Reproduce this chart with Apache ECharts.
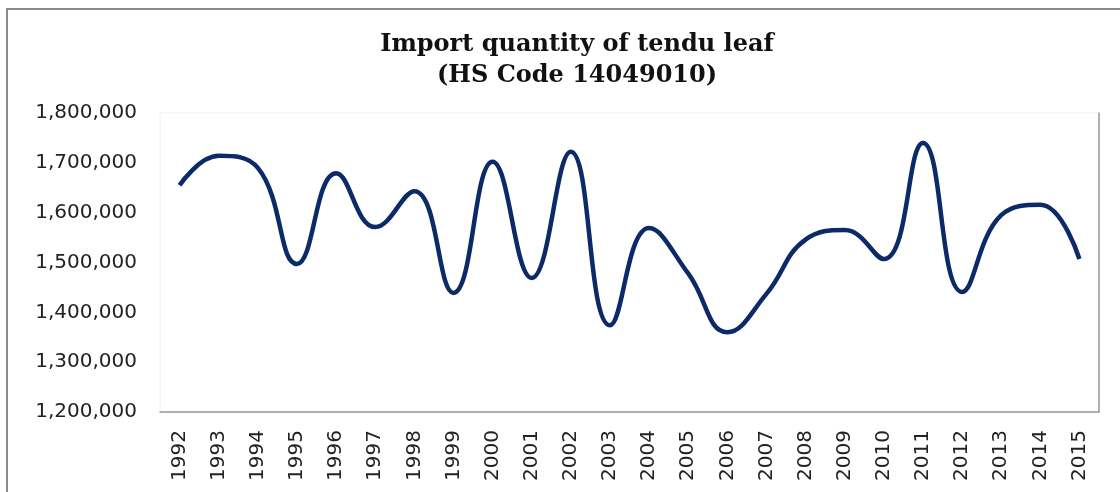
<!DOCTYPE html>
<html>
<head>
<meta charset="utf-8">
<title>Import quantity of tendu leaf</title>
<script src="https://cdn.jsdelivr.net/npm/echarts@6/dist/echarts.min.js"></script>
<style>
  html, body { margin: 0; padding: 0; background: #fff; }
  #chart { width: 1120px; height: 492px; }
</style>
</head>
<body>
<div id="chart"></div>
<script>
// years on the x axis
const years = ['1992', '1993', '1994', '1995', '1996', '1997', '1998', '1999', '2000', '2001', '2002', '2003',
  '2004', '2005', '2006', '2007', '2008', '2009', '2010', '2011', '2012', '2013', '2014', '2015']
// import quantity
const quantity = [1655000, 1714000, 1690000, 1497000, 1679000, 1571000, 1643000, 1439000, 1702000, 1469000,
  1722000, 1374000, 1569000, 1478000, 1360000, 1437000, 1546000, 1565000, 1507000, 1740000,
  1441000, 1595000, 1616000, 1507000]
const yMin = 1200000
const yMax = 1800000
const yStep = 100000

const fmt = v => String(v).replace(/\B(?=(\d{3})+(?!\d))/g, ',')

const myChart = echarts.init(document.getElementById('chart'))
const option = {
  animation: false,
  backgroundColor: '#fff',
  title: {
    text: 'Import quantity of tendu leaf\n(HS Code 14049010)',
    left: 572,
    top: 24,
    textAlign: 'center',
    textStyle: {
      fontFamily: 'DejaVu Serif',
      fontWeight: 'bold',
      fontSize: 24,
      lineHeight: 31,
      color: '#111'
    }
  },
  graphic: [
    {
      type: 'polyline',
      shape: { points: [[7, 492], [7, 9], [1120, 9]] },
      style: { stroke: '#8a8a8a', lineWidth: 2, fill: null }
    }
  ],
  grid: {
    left: 160,
    right: 21,
    top: 113,
    bottom: 80,
    show: true,
    borderColor: '#eeeeee',
    borderWidth: 1
  },
  xAxis: {
    type: 'category',
    data: years,
    boundaryGap: true,
    axisLine: { lineStyle: { color: '#999', width: 1.5 } },
    axisTick: { length: 7, lineStyle: { color: '#999', width: 1.5 } },
    axisLabel: {
      rotate: 90,
      margin: 18,
      fontFamily: 'DejaVu Sans',
      fontSize: 20,
      color: '#222'
    }
  },
  yAxis: [
    {
      type: 'value',
      min: yMin,
      max: yMax,
      interval: yStep,
      axisLine: { show: false },
      axisTick: { show: false },
      splitLine: { show: false },
      axisLabel: {
        margin: 23,
        fontFamily: 'DejaVu Sans',
        fontSize: 20,
        color: '#222',
        formatter: v => fmt(v)
      }
    },
    {
      type: 'value',
      position: 'right',
      min: yMin,
      max: yMax,
      interval: yStep,
      axisLine: { show: true, lineStyle: { color: '#999', width: 1.5 } },
      axisTick: { show: false },
      axisLabel: { show: false },
      splitLine: { show: false }
    }
  ],
  series: [
    {
      name: 'Import quantity',
      type: 'line',
      data: quantity,
      smooth: 0.45,
      showSymbol: false,
      lineStyle: { color: '#0c2a68', width: 4.5 },
      itemStyle: { color: '#0c2a68' }
    }
  ]
}
myChart.setOption(option)
</script>
</body>
</html>
